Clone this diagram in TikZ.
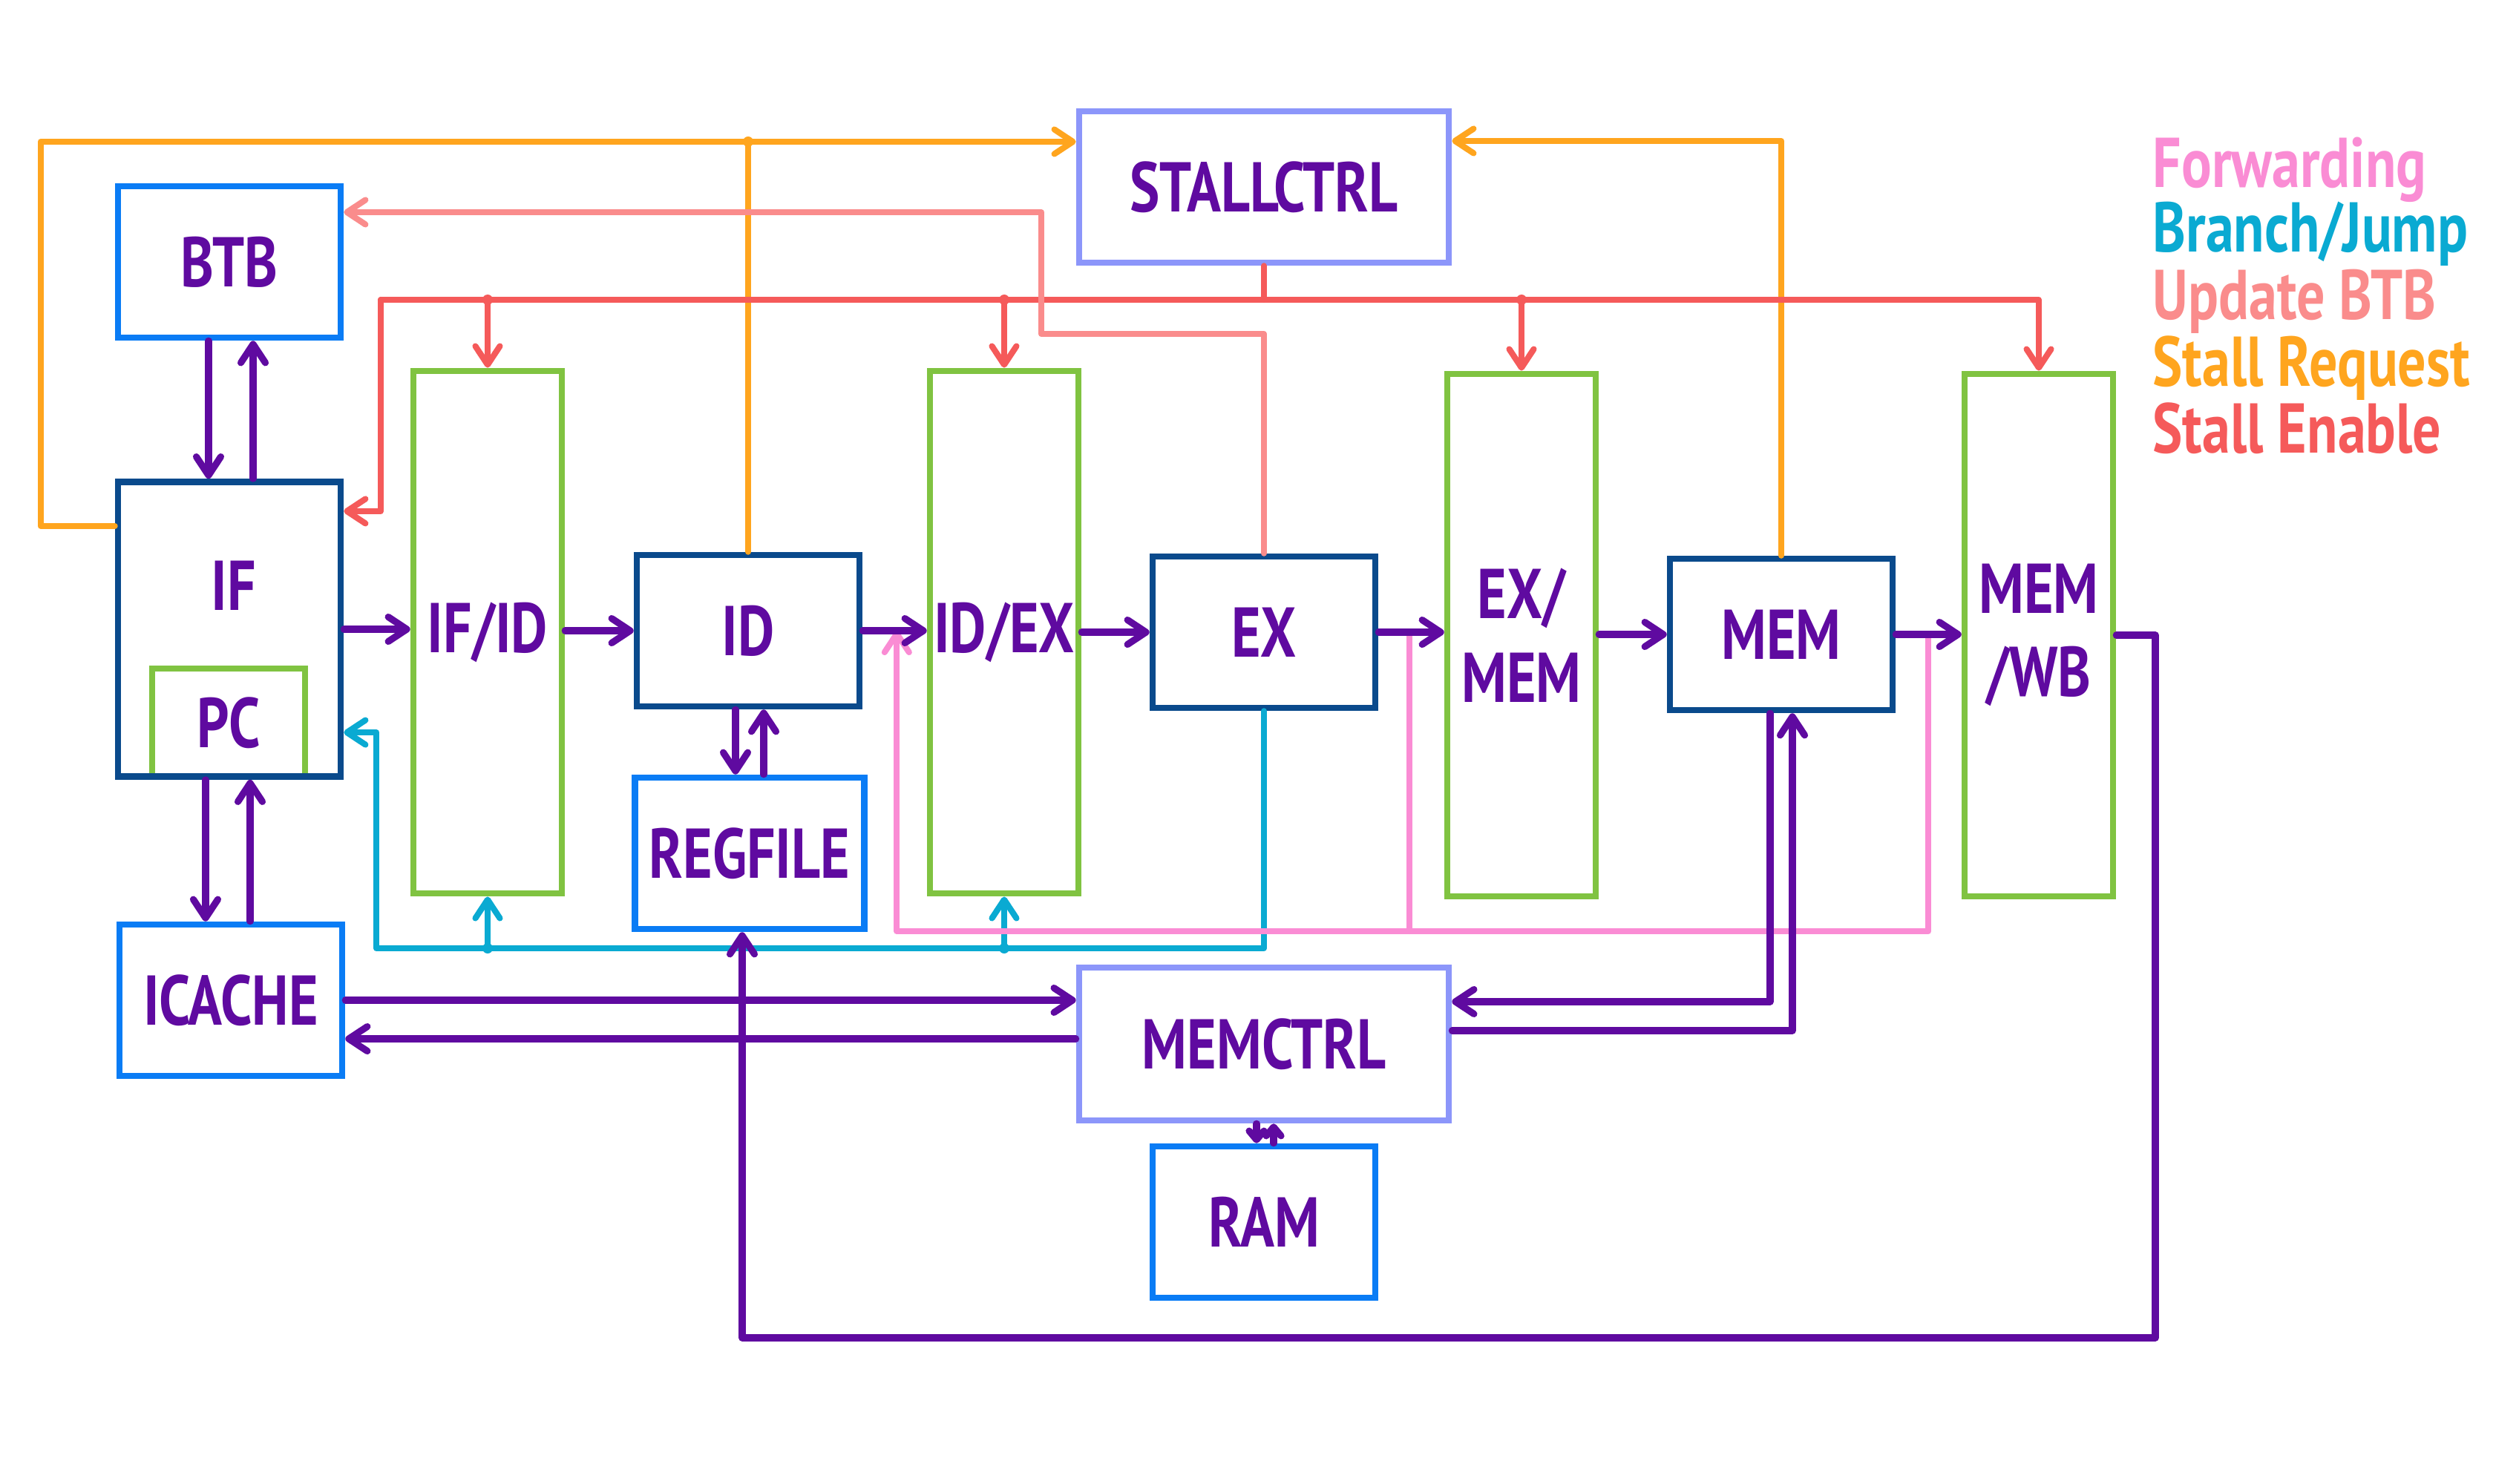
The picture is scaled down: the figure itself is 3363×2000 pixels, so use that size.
\documentclass[tikz,border=0pt]{standalone}
\usepackage{fontspec}
\setmainfont{PT Sans}[FakeStretch=0.8]
\usetikzlibrary{arrows.meta,calc}
\definecolor{Ink}{HTML}{5F0AA0}
\definecolor{Navy}{HTML}{0A4A8C}
\definecolor{Azure}{HTML}{0A7CF5}
\definecolor{Leaf}{HTML}{80C341}
\definecolor{Lilac}{HTML}{8C96FA}
\definecolor{Amber}{HTML}{FFA51E}
\definecolor{Coral}{HTML}{F55A5A}
\definecolor{Salmon}{HTML}{FA8C8C}
\definecolor{Rose}{HTML}{FA8CD4}
\definecolor{Sky}{HTML}{0AAAD2}
\tikzset{lbl/.style={text=Ink,font=\bfseries\fontsize{27}{32}\selectfont,align=center,inner sep=0pt},box/.style={lbl,draw,line width=2.4pt,minimum width=3cm,minimum height=2.04cm},stage/.style={box,draw=Navy},unit/.style={box,draw=Azure},ctrl/.style={box,draw=Lilac,minimum width=4.98cm},latch/.style={box,draw=Leaf,minimum width=2cm,minimum height=7.04cm},wire/.style={line width=2.3pt,line cap=round,line join=round},arr/.style={-{Straight Barb[length=2.5mm,width=3.3mm,round]}},dat/.style={wire,line width=2.6pt,draw=Ink},req/.style={wire,draw=Amber},en/.style={wire,draw=Coral},upd/.style={wire,draw=Salmon},br/.style={wire,draw=Sky},fwd/.style={wire,draw=Rose}}

\begin{document}
\begin{tikzpicture}[x=0.01cm,y=-0.01cm]
      \fill[white](0,0)rectangle(3363,2000);\useasboundingbox(0,0)rectangle(3363,2000);
      % units
      \node[unit](btb)at(309,353){BTB};
      \node[box,draw=Leaf,minimum width=2.06cm,minimum height=1.46cm](pc)at(308,974){PC};
      \node[stage,minimum height=3.97cm](if)at(309,848){};
      \node[lbl](iflbl)at(315,789){IF};
      \node[unit](icache)at(311,1348){ICACHE};
      \node[latch](ifid)at(657,852){IF/ID};
      \node[stage](id)at(1008,850){ID};
      \node[unit,minimum width=3.09cm](regfile)at(1010,1150){REGFILE};
      \node[latch](idex)at(1353,852){ID/EX};
      \node[stage](ex)at(1703,852){EX};
      \node[latch](exmem)at(2050,856){EX/\\MEM};
      \node[stage](mem)at(2400,855){MEM};
      \node[latch](memwb)at(2747,856){MEM\\/WB};
      \node[ctrl](stallctrl)at(1703,252){STALLCTRL};
      \node[ctrl,minimum height=2.06cm](memctrl)at(1703,1407){MEMCTRL};
      \node[unit](ram)at(1703,1647){RAM};
      % legend
      \node[lbl,text=Rose,anchor=base west](lgfwd)at(2900,252){Forwarding};
      \node[lbl,text=Sky,anchor=base west](lgbr)at(2900,340){Branch/Jump};
      \node[lbl,text=Salmon,anchor=base west](lgupd)at(2900,430){Update BTB};
      \node[lbl,text=Amber,anchor=base west](lgreq)at(2900,520){Stall Request};
      \node[lbl,text=Coral,anchor=base west](lgen)at(2900,610){Stall Enable};
      % bends
      \coordinate(ifreq)at([yshift=1.39cm]if.west);\coordinate(screq)at([yshift=0.61cm]stallctrl.west);\coordinate(screq2)at([yshift=0.62cm]stallctrl.east);
      \coordinate(enleft)at(513,404);\coordinate(ifen)at([yshift=1.59cm]if.east);
      \coordinate(updbend)at(1403,450);\coordinate(btbin)at([yshift=0.67cm]btb.east);
      \coordinate(brleft)at(507,1278);\coordinate(pcin)at([yshift=-1.39cm]if.east);
      \coordinate(fwdbus)at(0,1255);\coordinate(fwdex)at([xshift=0.42cm]ex.east);\coordinate(fwdmem)at([xshift=0.44cm]mem.east);\coordinate(fwdid)at([xshift=0.46cm]id.east);
      \coordinate(icret)at([yshift=-0.52cm]icache.east);\coordinate(mcin)at([yshift=0.57cm]memctrl.east);\coordinate(mcout)at([yshift=0.18cm]memctrl.east);
      \coordinate(mrd)at([xshift=-0.15cm]mem.south);\coordinate(mwr)at([xshift=0.15cm]mem.south);
      \coordinate(wbturn)at(2904,1803);
      % stall request / enable
      \draw[req,arr](ifreq)--++(-100,0)|-(screq);
      \draw[req](id.north)--(id.north|-screq);\fill[Amber](id.north|-screq)circle(0.07cm);
      \draw[req,arr](mem.north)|-(screq2);
      \draw[en](stallctrl.south)--(stallctrl.south|-enleft);
      \draw[en,arr](enleft)--(enleft-|memwb.north)--(memwb.north);
      \draw[en,arr](enleft)|-(ifen);
      \foreach \r in {ifid,idex,exmem}{\draw[en,arr](\r.north|-enleft)--(\r.north);\fill[Coral](\r.north|-enleft)circle(0.07cm);}
      % update btb, branch, forwarding
      \draw[upd,arr](ex.north)|-(updbend)|-(btbin);
      \draw[br,arr](ex.south)|-(brleft)|-(pcin);
      \foreach \r in {ifid,idex}{\draw[br,arr](\r.south|-brleft)--(\r.south);\fill[Sky](\r.south|-brleft)circle(0.07cm);}
      \draw[fwd,arr](fwdmem)--(fwdmem|-fwdbus)-|(fwdid);
      \draw[fwd](fwdex)--(fwdex|-fwdbus);
      % data path
      \draw[dat,arr](if.east)--(if.east-|ifid.west);\draw[dat,arr](id.west-|ifid.east)--(id.west);
      \draw[dat,arr](id.east)--(id.east-|idex.west);\draw[dat,arr](ex.west-|idex.east)--(ex.west);
      \draw[dat,arr](ex.east)--(ex.east-|exmem.west);\draw[dat,arr](mem.west-|exmem.east)--(mem.west);
      \draw[dat,arr](mem.east)--(mem.east-|memwb.west);
      \draw[dat,arr](memwb.east)-|(wbturn)-|([xshift=-0.1cm]regfile.south);
      \draw[dat,arr]([xshift=-0.28cm]btb.south)--([xshift=-0.28cm]if.north);\draw[dat,arr]([xshift=0.32cm]if.north)--([xshift=0.32cm]btb.south);
      \draw[dat,arr]([xshift=-0.32cm]if.south)--([xshift=-0.32cm]if.south|-icache.north);\draw[dat,arr]([xshift=0.28cm]if.south|-icache.north)--([xshift=0.28cm]if.south);
      \draw[dat,arr]([xshift=-0.17cm]id.south)--([xshift=-0.17cm]id.south|-regfile.north);\draw[dat,arr]([xshift=0.21cm]id.south|-regfile.north)--([xshift=0.21cm]id.south);
      \draw[dat,arr](icache.east)--(icache.east-|memctrl.west);\draw[dat,arr](icret-|memctrl.west)--(icret);
      \draw[dat,arr](mrd)|-(mcin);\draw[dat,arr](mcout)-|(mwr);
      \draw[dat,-{Straight Barb[length=1.2mm,width=2mm,round]}]([xshift=-0.1cm]memctrl.south)--([xshift=-0.1cm]ram.north);
      \draw[dat,-{Straight Barb[length=1.2mm,width=2mm,round]}]([xshift=0.13cm]ram.north)--([xshift=0.13cm]memctrl.south);
    \end{tikzpicture}
\end{document}
